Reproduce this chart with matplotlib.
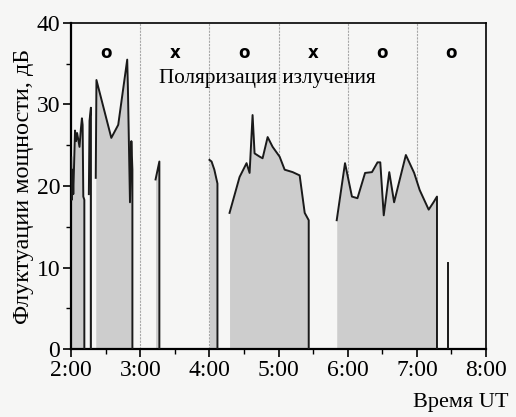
import matplotlib
matplotlib.use("Agg")
import matplotlib.pyplot as plt
from matplotlib.ticker import MultipleLocator, FuncFormatter

plt.rcParams['font.family'] = ['Liberation Serif', 'DejaVu Serif']

# time in hours UT, fluctuation level in dB
seg_a_t = [2.000, 2.008, 2.020, 2.030, 2.055, 2.070, 2.085, 2.100, 2.120, 2.140, 2.155, 2.165, 2.175, 2.190]
seg_a_v = [23.5, 18.3, 22.0, 19.0, 26.8, 25.5, 26.5, 25.8, 24.8, 27.0, 28.3, 27.5, 18.7, 18.3]
seg_s_t = [2.255, 2.265, 2.285]
seg_s_v = [19.0, 28.0, 29.6]
seg_b_t = [2.355, 2.365, 2.580, 2.680, 2.810, 2.820, 2.850, 2.870, 2.885]
seg_b_v = [21.0, 33.0, 25.9, 27.5, 35.5, 32.0, 18.0, 25.5, 22.0]
seg_c_t = [3.220, 3.275]
seg_c_v = [20.8, 23.0]
seg_d_t = [4.000, 4.030, 4.070, 4.115]
seg_d_v = [23.2, 23.0, 22.0, 20.3]
seg_e_t = [4.29, 4.435, 4.536, 4.58, 4.623, 4.652, 4.725, 4.768, 4.841, 4.913,
           5.014, 5.087, 5.203, 5.304, 5.377, 5.435]
seg_e_v = [16.7, 21.1, 22.8, 21.6, 28.7, 24.0, 23.6, 23.4, 26.0, 24.8,
           23.6, 22.0, 21.7, 21.3, 16.7, 15.8]
seg_f_t = [5.84, 5.96, 6.06, 6.14, 6.25, 6.35, 6.43, 6.47, 6.52, 6.60,
           6.67, 6.74, 6.84, 6.96, 7.04, 7.17, 7.24, 7.29]
seg_f_v = [15.8, 22.8, 18.7, 18.5, 21.6, 21.7, 22.9, 22.9, 16.4, 21.7,
           18.0, 20.4, 23.8, 21.6, 19.5, 17.1, 18.0, 18.7]
seg_g_t = [7.45]
seg_g_v = [10.6]

pol_t = [2.5, 3.5, 4.5, 5.5, 6.5, 7.5]
pol_mode = ['o', 'x', 'o', 'x', 'o', 'o']

segments = [(seg_a_t, seg_a_v), (seg_s_t, seg_s_v), (seg_b_t, seg_b_v),
            (seg_c_t, seg_c_v), (seg_d_t, seg_d_v), (seg_e_t, seg_e_v),
            (seg_f_t, seg_f_v), (seg_g_t, seg_g_v)]

bg = '#f6f6f5'
fig = plt.figure(figsize=(5.16, 4.17), dpi=100, facecolor=bg)
ax = fig.add_axes([0.138, 0.163, 0.804, 0.782], facecolor=bg)

for h in range(3, 8):
    ax.axvline(h, color='#a8a8a8', lw=0.8, ls=(0, (2, 1)), zorder=1)

for t, v in segments:
    ax.fill_between(t, v, 0, color='#cdcdcd', lw=0, zorder=2)
    ax.plot(t + [t[-1]], v + [0], color='#1a1a1a', lw=1.4, zorder=3)

for t, m in zip(pol_t, pol_mode):
    ax.text(t, 36.3, m, ha='center', va='center', fontsize=12,
            fontweight='bold', family='DejaVu Sans', zorder=4)
ax.text(4.84, 33.2, 'Поляризация излучения', ha='center', va='center',
        fontsize=15.3, zorder=4)

ax.set_xlim(2, 8)
ax.set_ylim(0, 40)
ax.xaxis.set_major_locator(MultipleLocator(1))
ax.xaxis.set_minor_locator(MultipleLocator(0.5))
ax.yaxis.set_major_locator(MultipleLocator(10))
ax.yaxis.set_minor_locator(MultipleLocator(5))
ax.xaxis.set_major_formatter(FuncFormatter(lambda x, p: f'{int(round(x))}:00'))
ax.tick_params(which='major', direction='out', length=6, width=1.2, labelsize=17, pad=2)
ax.tick_params(which='minor', direction='out', length=3.5, width=1.0)
for s in ax.spines.values():
    s.set_linewidth(1.2)
ax.spines['left'].set_linewidth(1.6)
ax.spines['bottom'].set_linewidth(1.6)

ax.set_ylabel('Флуктуации мощности, дБ', fontsize=17.5, labelpad=2)
fig.text(0.985, 0.035, 'Время UT', ha='right', va='center', fontsize=16)

fig.savefig('out.png', dpi=100, facecolor=bg)
